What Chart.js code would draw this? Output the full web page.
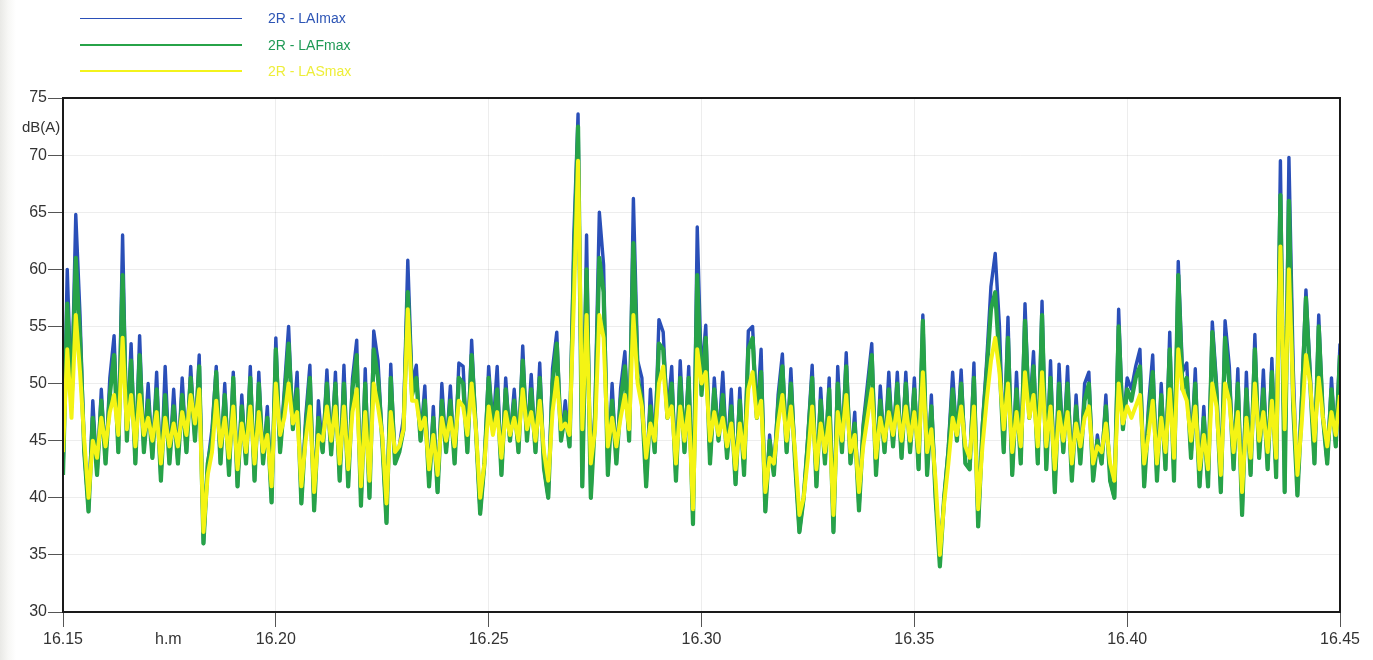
<!DOCTYPE html>
<html>
<head>
<meta charset="utf-8">
<title>2R - LAImax / LAFmax / LASmax</title>
<script src="https://cdn.jsdelivr.net/npm/chart.js@4.4.1/dist/chart.umd.min.js"></script>
<style>
    html, body { margin: 0; padding: 0; background: #fff; }
    body {
        width: 1373px; height: 660px; position: relative; overflow: hidden;
        font-family: "Liberation Sans", Arial, sans-serif;
        background: linear-gradient(to right, #e9e9e6 0px, #f7f7f5 8px, #fff 16px);
    }
    #grafico { position: absolute; left: 0; top: 0; }
    .item { position: absolute; left: 80px; height: 20px; display: flex; align-items: center; }
    .item .linea { width: 162px; height: 0; margin-right: 26px; }
    .item span { font-size: 14px; }
    .etiqueta { position: absolute; color: #333; }
</style>
</head>
<body>
<canvas id="grafico" width="1373" height="660"></canvas>

<div class="item" style="top:8px"><div class="linea" style="border-top:1.5px solid #2a4fb8"></div><span style="color:#2d55b5">2R - LAImax</span></div>
<div class="item" style="top:35px"><div class="linea" style="border-top:2.5px solid #27a348"></div><span style="color:#1f9a55">2R - LAFmax</span></div>
<div class="item" style="top:61px"><div class="linea" style="border-top:2px solid #f3f31c"></div><span style="color:#eeee3a">2R - LASmax</span></div>

<div class="etiqueta" style="left:22px;top:118px;font-size:15px">dB(A)</div>
<div class="etiqueta" style="left:155px;top:630px;font-size:16px">h.m</div>

<script>
// one sample every 6 seconds, 16.15 -> 16.45
const PASO_S = 6;
const xTickLabels = ["16.15", "16.20", "16.25", "16.30", "16.35", "16.40", "16.45"];
const yTicks = [30, 35, 40, 45, 50, 55, 60, 65, 70, 75];

const laiMax = [
    42, 60, 48.5, 64.8, 56, 44, 38.8, 48.5, 42, 49.5,
    43, 50.5, 54.2, 44, 63, 45, 53.5, 43, 54.2, 44,
    50, 43.5, 51, 41.5, 51.5, 43, 49.5, 43, 50.5, 44,
    51.5, 45, 52.5, 36, 43, 46, 51.5, 43, 50, 42,
    51, 41, 49, 43, 51.5, 41.5, 51, 43, 48, 39.6,
    54, 44, 49.5, 55, 46, 51, 39.5, 47, 51.6, 38.9,
    48.5, 44, 51.2, 43.8, 51, 41.5, 51.6, 41, 50.4, 53.8,
    39.3, 51.3, 40, 54.6, 52, 45, 37.8, 51.7, 43, 44.5,
    47, 60.8, 50, 51.6, 45, 49.8, 41, 48, 40.5, 50,
    44, 49.8, 43, 51.8, 51.5, 44, 53.8, 46, 38.6, 43,
    51.5, 46, 51.5, 42, 50.5, 45, 49.5, 44, 53.3, 45,
    50.8, 44, 51.8, 42.6, 40, 51.3, 54.5, 45, 48.5, 44.5,
    62.9, 73.6, 41, 63, 40, 48, 65, 60.4, 42, 50,
    43, 49.6, 52.8, 45, 66.2, 52, 50.5, 41, 49.5, 44,
    55.6, 54.5, 47, 51.5, 41.5, 52, 44, 51.5, 37.7, 63.7,
    50.5, 55.1, 43, 50.5, 45, 51, 43.5, 49.5, 41.2, 49.6,
    42, 54.6, 55, 47, 53, 38.8, 45.5, 42, 49, 52.6,
    44, 51.3, 43, 37, 40, 45.5, 51.6, 41, 49.6, 43,
    50.5, 37, 51.5, 44, 52.7, 43, 47.5, 38.9, 46.5, 50,
    53.5, 42, 49.8, 44, 51, 44.5, 51, 43.5, 51, 44,
    50.5, 42.5, 56, 42, 49, 40, 35, 40, 44.5, 51,
    45, 51.2, 43, 42.5, 51.8, 37.5, 46.5, 52, 58.5, 61.4,
    55, 44, 55.8, 42, 51, 43, 57, 47, 52.8, 43,
    57.2, 42.5, 52, 40.5, 51.7, 44, 51.5, 41.5, 49, 43,
    50, 51, 41.5, 45.5, 43, 49, 41.5, 40, 56.5, 46,
    50.5, 49.5, 51.5, 53, 41, 48, 52.5, 41.5, 50, 42.5,
    54.5, 41.5, 60.7, 51, 51.8, 43.5, 51.3, 41, 48, 41,
    55.4, 50, 40.5, 55.5, 51.5, 42.5, 51.3, 38.5, 51, 42,
    54.3, 43.5, 51.2, 42.5, 52.2, 41.8, 69.5, 40.5, 69.8, 51.5,
    40.2, 49, 58.2, 51, 43, 56, 47, 43, 50.5, 44.5,
    53.5
];

const lafMax = [
    42, 57, 48, 61, 54, 44, 38.8, 47, 42, 48.5,
    43, 49, 52.5, 44, 59.5, 45, 52, 43, 52.5, 44,
    48.5, 43.5, 49.5, 41.5, 49, 43, 48, 43, 49, 44,
    50.5, 45, 51.5, 36, 43, 45, 51, 43, 49, 42,
    50.5, 41, 48, 43, 50.5, 41.5, 50, 43, 47, 39.6,
    53, 44, 48.5, 53.5, 46, 49.5, 39.5, 46, 50.5, 38.9,
    47, 44, 50, 43.8, 50, 41.5, 50, 41, 49.5, 52.5,
    39.3, 50, 40, 53, 50.5, 45, 37.8, 50.5, 43, 44,
    46, 58, 49, 50.5, 45, 48.5, 41, 47, 40.5, 48.5,
    44, 48.5, 43, 50.5, 50, 44, 52.5, 46, 38.6, 43,
    50.5, 46, 49.5, 42, 49.5, 45, 48.5, 44, 52, 45,
    49.5, 44, 50.5, 42.6, 40, 50, 53.5, 45, 47.5, 44.5,
    60, 72.5, 41, 60, 40, 47, 61, 58, 42, 48.5,
    43, 48.5, 51.5, 45, 62.3, 50.5, 48.5, 41, 48, 44,
    53.5, 53, 47, 50, 41.5, 50.5, 44, 50.5, 37.7, 59.5,
    49, 54, 43, 49.5, 45, 49, 43.5, 48, 41.2, 48.5,
    42, 53, 54, 47, 51, 38.8, 45, 42, 48, 51.5,
    44, 50, 43, 37, 40, 45, 50.5, 41, 48.5, 43,
    49.5, 37, 50, 44, 51.5, 43, 46.5, 38.9, 46, 49,
    52.5, 42, 48.5, 44, 49.5, 44.5, 50, 43.5, 50, 44,
    49.5, 42.5, 55.5, 42, 48, 40, 34, 40, 44, 49.5,
    45, 50, 43, 42.5, 50.5, 37.5, 46, 51, 56.5, 58,
    52, 44, 54, 42, 49.5, 43, 55.5, 47, 51.5, 43,
    56, 42.5, 50.5, 40.5, 50, 44, 50, 41.5, 48, 43,
    48.5, 50, 41.5, 45, 43, 48, 41.5, 40, 55, 46,
    49.5, 48.5, 50.5, 51.5, 41, 47, 51, 41.5, 49, 42.5,
    53, 41.5, 59.5, 49.5, 50.5, 43.5, 50, 41, 47, 41,
    54.5, 49, 40.5, 54, 50, 42.5, 50, 38.5, 49.5, 42,
    53, 43.5, 49.5, 42.5, 51, 41.8, 66.5, 40.5, 66, 48,
    40.2, 48, 57.5, 50, 43, 55, 47, 43, 49.5, 44.5,
    52.5
];

const lasMax = [
    44, 53, 47, 56, 51, 45, 40, 45, 43.5, 47,
    44.5, 47.5, 49, 45.5, 54, 46, 49, 44.5, 49, 45.5,
    47, 45, 47.5, 43, 47, 44.5, 46.5, 44.5, 47.5, 45.5,
    49, 46.5, 49.5, 37, 42, 44, 48.5, 44.5, 47, 43.5,
    48, 42.5, 46.5, 44, 48, 43, 47.5, 44, 45.5, 41,
    50, 45.5, 47, 50, 46.5, 47.5, 41, 45, 48, 40.5,
    45.5, 45, 48, 45, 48, 43, 48, 42.5, 47.5, 49.5,
    41, 47.5, 41.5, 50, 48, 45.5, 39.5, 47.5, 44, 44.5,
    46, 56.5, 48.5, 48.5, 46, 47, 42.5, 45.5, 42, 47,
    45, 47, 44.5, 48.5, 48, 45.5, 50, 46, 40, 43,
    48, 45.5, 47.5, 43.5, 47.5, 45.5, 47, 45, 49.5, 46,
    47.5, 45, 48.5, 44, 41.5, 47.5, 50.5, 46, 46.5, 45.5,
    57, 69.5, 46, 56, 43, 46, 56, 54, 44.5, 47,
    44.5, 47, 49, 46, 56, 50, 48, 43.5, 46.5, 45,
    50, 51.5, 47, 48, 43, 48, 45, 48, 39, 53,
    50, 51, 45, 47.5, 45.5, 47, 44.5, 46.5, 42.5, 46.5,
    43.5, 49.5, 51, 47, 48.5, 40.5, 43.5, 43, 46.5, 49,
    45, 48, 44, 38.5, 40, 43.5, 48, 42.5, 46.5, 44,
    47, 38.5, 47.5, 45, 49, 44, 45.5, 40.5, 44.5, 47,
    49.5, 43.5, 47, 45, 47.5, 45.5, 48, 45, 48, 45,
    47.5, 44, 51, 44, 46, 41.5, 35, 39.5, 43, 47,
    45.5, 48, 44.5, 43.5, 48, 39, 44.5, 48.5, 52, 54,
    51, 46, 50, 44, 47.5, 44.5, 51, 47, 49, 44.5,
    51, 44.5, 48, 42.5, 47.5, 45, 47.5, 43, 46.5, 44.5,
    47, 48, 43, 44.5, 44, 46.5, 43, 41.5, 50, 46.5,
    48, 47, 48, 49, 43, 45.5, 48.5, 43, 47, 44,
    49.5, 43.5, 53, 49.5, 48.5, 45, 48, 42.5, 45.5, 42.5,
    50, 48, 42, 50, 48.5, 44, 47.5, 40.5, 47, 43.5,
    50, 45, 47.5, 44, 48.5, 43.5, 62, 46, 60, 49,
    42, 46.5, 52.5, 50, 45, 50.5, 47, 44.5, 47.5, 45.5,
    49
];

const aPuntos = (serie) => serie.map((v, i) => ({ x: i * PASO_S, y: v }));

// black frame round the plot area, drawn over the traces
const marco = {
    id: "marco",
    afterDatasetsDraw(chart) {
        const { ctx, chartArea: a } = chart;
        ctx.save();
        ctx.strokeStyle = "#1a1a1a";
        ctx.lineWidth = 2;
        ctx.strokeRect(a.left, a.top, a.right - a.left, a.bottom - a.top);
        ctx.restore();
    }
};

const fuente = { family: "'Liberation Sans', Arial, sans-serif", size: 16 };
const rejilla = { color: "rgba(0,0,0,0.07)", tickColor: "#555", tickLength: 15 };

const linea = (label, data, color, ancho, order) => ({
    label: label,
    data: aPuntos(data),
    borderColor: color,
    borderWidth: ancho,
    borderJoinStyle: "round",
    pointRadius: 0,
    tension: 0,
    fill: false,
    order: order
});

new Chart(document.getElementById("grafico"), {
    type: "line",
    data: {
        datasets: [
            linea("2R - LAImax", laiMax, "#2a4fb8", 3.4, 3),
            linea("2R - LAFmax", lafMax, "#27a348", 4.2, 2),
            linea("2R - LASmax", lasMax, "#f4f414", 4, 1)
        ]
    },
    options: {
        responsive: false,
        animation: false,
        layout: { padding: { top: 98, right: 33, bottom: 0, left: 0 } },
        plugins: { legend: { display: false }, tooltip: { enabled: false } },
        scales: {
            x: {
                type: "linear",
                min: 0,
                max: (xTickLabels.length - 1) * 300,
                afterFit: (s) => { s.height = 48; },
                afterBuildTicks: (s) => { s.ticks = xTickLabels.map((_, i) => ({ value: i * 300 })); },
                ticks: {
                    autoSkip: false, maxRotation: 0, padding: 3, color: "#333", font: fuente,
                    callback: (v) => xTickLabels[Math.round(v / 300)]
                },
                grid: rejilla,
                border: { display: false }
            },
            y: {
                min: yTicks[0],
                max: yTicks[yTicks.length - 1],
                afterFit: (s) => { s.width = 63; },
                afterBuildTicks: (s) => { s.ticks = yTicks.map((v) => ({ value: v })); },
                ticks: { padding: 1, color: "#333", font: fuente },
                grid: rejilla,
                border: { display: false }
            }
        }
    },
    plugins: [marco]
});
</script>
</body>
</html>
